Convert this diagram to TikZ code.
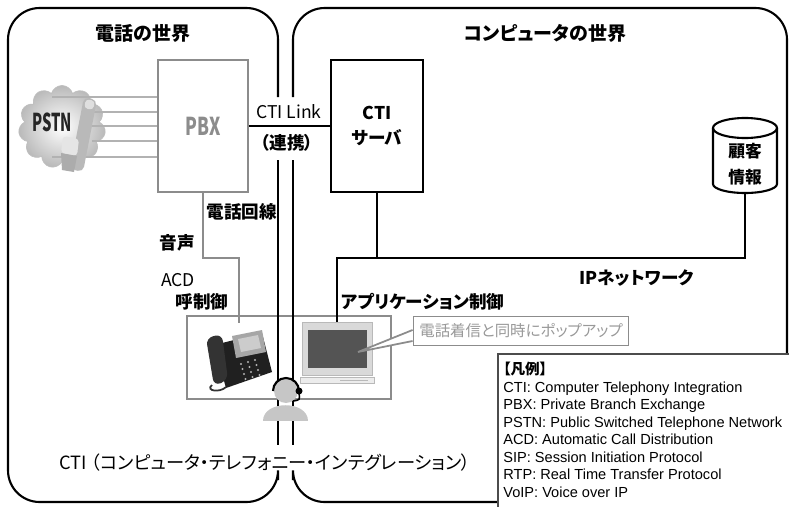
\documentclass[tikz,border=0pt]{standalone}
\usepackage{fontspec}
\setmainfont{Noto Sans CJK JP}[RawFeature=+palt]
\newfontfamily\legendfont{Liberation Sans}
\usepackage{tikz}
\usetikzlibrary{shapes.symbols}

\definecolor{linegray}{gray}{0.55}
\definecolor{screengray}{gray}{0.33}

\begin{document}
\begin{tikzpicture}[x=0.02cm, y=-0.02cm,
  thickline/.style={line width=1.2pt},
  grayline/.style={line width=1pt, draw=linegray},
  title/.style={font=\bfseries\fontsize{10.8}{13}\selectfont, inner sep=0pt},
  lbl/.style={font=\bfseries\fontsize{10}{12}\selectfont, inner sep=0pt},
  plain/.style={font=\fontsize{10}{12}\selectfont, inner sep=0pt},
  narrow/.style={font=\bfseries\fontsize{14}{16}\selectfont, inner sep=0pt}]

  \useasboundingbox (0,0) rectangle (789,507);
  \clip (0,0) rectangle (789,507);
  \fill[white] (0,0) rectangle (789,507);

  % desk with phone and PC
  \node[draw=linegray, line width=1pt, minimum width=4.08cm, minimum height=1.66cm] (desk) at (289,357.5) {};

  % the two worlds
  \draw[thickline, rounded corners=18] (278,97) -- (278,8) -- (8,8) -- (8,502) -- (278,502) -- (278,480);
  \draw[thickline] (278,160) -- (278,445);
  \draw[thickline, rounded corners=18] (293,97) -- (293,8) -- (787,8) -- (787,430);
  \draw[thickline] (293,160) -- (293,445);
  \draw[thickline, rounded corners=18] (293,480) -- (293,502) -- (500,502);

  \node[title] (telw) at (143,33) {電話の世界};
  \node[title] (compw) at (545,33) {コンピュータの世界};

  % PSTN cloud and handset
  \node[cloud, cloud puffs=11, aspect=1.05, minimum width=1.74cm, minimum height=1.66cm,
    draw=gray!50, inner color=white, outer color=gray!55] (pstn) at (62,127) {};

  \node[draw=linegray, line width=1pt, minimum width=1.8cm, minimum height=2.64cm,
    text=linegray, font=\bfseries\fontsize{14}{16}\selectfont] (pbx) at (203,126) {\scalebox{0.7}[1]{PBX}};

  \foreach \y in {97,157}
    \draw[gray!60, line width=0.7pt] (52,\y) -- (pbx.west |- 0,\y);
  \foreach \y in {112,126,141}
    \draw[gray!60, line width=0.7pt] (92,\y) -- (pbx.west |- 0,\y);

  \fill[gray!55, rounded corners=3] (84,97) -- (97,100) -- (83,172) -- (70,169) -- cycle;
  \fill[gray!25, rounded corners=2] (86,99) -- (95,101) -- (93,110) -- (84,108) -- cycle;
  \fill[gray!20, rounded corners=2] (63,136) -- (79,139) -- (77,156) -- (61,153) -- cycle;
  \fill[gray!65] (61,153) -- (77,156) -- (74,172) -- (62,170) -- cycle;
  \node[narrow, text=black!85] (pstnlbl) at (52,122) {\scalebox{0.6}[1]{PSTN}};

  % CTI server and link
  \node[draw, thickline, minimum width=1.84cm, minimum height=2.64cm, align=center,
    font=\bfseries\fontsize{10}{14}\selectfont] (srv) at (377,126) {CTI\\サーバ};
  \draw[thickline] (pbx.east) -- (srv.west);
  \node[plain] (lnk) at (289,112) {CTI Link};
  \node[lbl] (rnk) at (287,143) {（連携）};

  % customer database
  \draw[thickline, fill=white] (713,128) -- (713,184) arc[start angle=180, end angle=0, x radius=32, y radius=9] -- (777,128);
  \draw[thickline] (745,128) ellipse[x radius=32, y radius=10];
  \node[lbl, align=center, font=\bfseries\fontsize{9.5}{15}\selectfont] (db) at (745,164) {顧客\\情報};
  \coordinate (dbb) at (745,193);

  % voice line to the phone
  \coordinate (phn) at (239,323);
  \draw[grayline] (pbx.south) |- (phn |- 0,258) -- (phn);
  \node[lbl] (line) at (242,212) {電話回線};
  \node[lbl] (voice) at (177,243) {音声};
  \node[plain] (acd) at (178,280) {ACD};
  \node[lbl] (call) at (202,302) {呼制御};

  % PC
  \node[fill=gray!30, draw=gray!55, minimum width=1.4cm, minimum height=1.06cm, inner sep=0pt] (lap) at (337,348.5) {};
  \node[fill=screengray, minimum width=1.18cm, minimum height=0.76cm, inner sep=0pt] (scr) at (337.5,349) {};
  \draw[draw=gray!55, fill=gray!15] (300,377) rectangle (374,383);
  \draw[gray!55] (340,380) -- (368,380);

  % IP network
  \draw[thickline] (srv.south) -- (srv.south |- 0,258);
  \draw[thickline] (lap.north) |- (dbb |- 0,258) -- (dbb);
  \node[lbl] (ipnet) at (637,278) {IPネットワーク};
  \node[lbl] (app) at (423,302) {アプリケーション制御};

  % popup
  \node[draw=linegray, line width=1pt, fill=white, text=gray!80, minimum width=4.26cm, minimum height=0.58cm,
    font=\fontsize{8.8}{10}\selectfont] (pop) at (521,331) {電話着信と同時にポップアップ};
  \fill[white] (pop.west |- 0,330) -- (358,352) -- (pop.west |- 0,341) -- cycle;
  \draw[linegray, line width=1pt] (pop.west |- 0,330) -- (358,352) -- (pop.west |- 0,341);

  % desk phone
  \fill[gray!25!black] (214,345) -- (262,333) -- (272,372) -- (226,388) -- cycle;
  \fill[gray!70] (232,336) -- (262,330) -- (266,352) -- (236,358) -- cycle;
  \fill[gray!40] (238,339) -- (258,335) -- (261,348) -- (241,352) -- cycle;
  \foreach \i in {0,1,2}
    \foreach \j in {0,1,2,3}
      \fill[gray!60] (241+\i*7+\j*1.5, 364+\j*5-\i*2) circle (1.1);
  \fill[black!80, rounded corners=4] (206,338) -- (222,334) -- (228,380) -- (214,386) -- cycle;
  \draw[black!80, line width=1pt] (212,385) .. controls (205,391) and (220,393) .. (226,387);

  % operator with headset
  \fill[gray!45] (263,421) .. controls (263,400) and (308,400) .. (308,421) -- cycle;
  \fill[gray!45] (286,391) circle (12);
  \draw[line width=1.2pt] (273,391) arc[start angle=180, end angle=360, radius=13];
  \fill (299,391) circle (3.5);
  \draw[line width=0.9pt] (299,393) .. controls (300,400) .. (293,401);

  \node[plain, font=\fontsize{10.4}{12}\selectfont] (cti) at (265,463) {CTI （コンピュータ・テレフォニー・インテグレーション）};

  % legend
  \node[draw=black!70, line width=1pt, fill=white, anchor=north west, minimum width=6.5cm,
    minimum height=3.4cm] (legendbox) at (497,353) {};
  \node[anchor=north west, align=left, inner sep=0pt,
    font=\legendfont\fontsize{8.3}{9.97}\selectfont] (legend) at (503,362)
    {{\normalfont\bfseries【凡例】}\\
     CTI: Computer Telephony Integration\\
     PBX: Private Branch Exchange\\
     PSTN: Public Switched Telephone Network\\
     ACD: Automatic Call Distribution\\
     SIP: Session Initiation Protocol\\
     RTP: Real Time Transfer Protocol\\
     VoIP: Voice over IP};
\end{tikzpicture}
\end{document}
